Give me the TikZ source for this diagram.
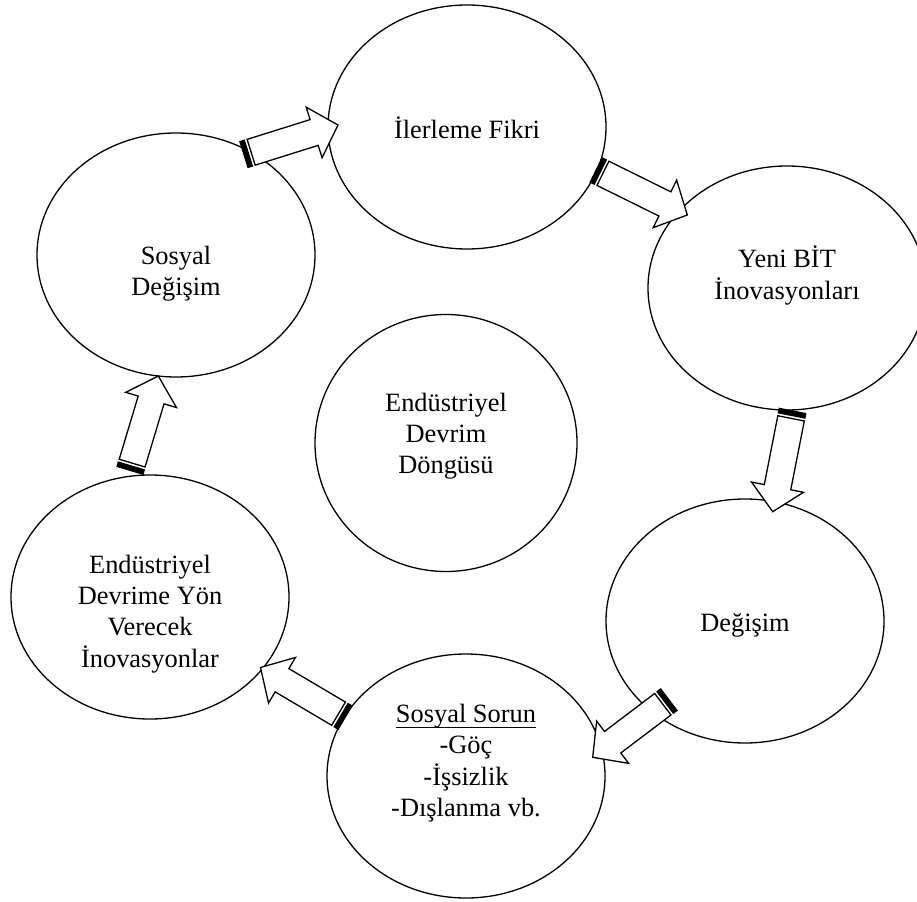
\documentclass[tikz,border=0pt]{standalone}
\usepackage{fontspec}
\setmainfont{Liberation Serif}
\usetikzlibrary{shapes.geometric,calc}
\newcommand{\lbfont}{\fontsize{26.4pt}{31pt}\selectfont}
\newcommand{\myul}[1]{\setbox0\hbox{#1}\rlap{\rule[-5.5pt]{\wd0}{1.3pt}}\box0}
\newcommand{\sarrow}[2]{%
 \path ($(#1)!4.5pt!(#2)$) coordinate (sa1)
       ($(#1)!7.5pt!(#2)$) coordinate (sa2)
       ($(#2)!25pt!(#1)$) coordinate (sab);
 \fill[white] ($(#1)!13.5pt!90:(#2)$) -- ($(sab)!13.5pt!90:(#2)$) -- ($(sab)!26.5pt!90:(#2)$) -- (#2) -- ($(sab)!26.5pt!-90:(#2)$) -- ($(sab)!13.5pt!-90:(#2)$) -- ($(#1)!13.5pt!-90:(#2)$) -- cycle;
 \draw[arw] ($(sa2)!13.5pt!90:(#2)$) -- ($(sab)!13.5pt!90:(#2)$) -- ($(sab)!26.5pt!90:(#2)$) -- (#2) -- ($(sab)!26.5pt!-90:(#2)$) -- ($(sab)!13.5pt!-90:(#2)$) -- ($(sa2)!13.5pt!-90:(#2)$) -- cycle;
 \filldraw[arw, fill=black] ($(#1)!13.5pt!90:(#2)$) -- ($(sa1)!13.5pt!90:(#2)$) -- ($(sa1)!13.5pt!-90:(#2)$) -- ($(#1)!13.5pt!-90:(#2)$) -- cycle;
}
\begin{document}
\begin{tikzpicture}[x=1pt,y=-1pt,
  ell/.style={ellipse, draw, line width=1.3pt, minimum width=278pt, minimum height=244pt, inner sep=0pt, outer sep=0pt},
  lbl/.style={font=\lbfont, align=center, inner sep=0pt},
  arw/.style={line width=1.3pt, line join=miter}]
\fill[white] (0,0) rectangle (917,901);
\useasboundingbox (0,0) rectangle (917,901);
% ellipses
\node[ell] (soc) at (176,255) {};
\node[ell] (ilr) at (467,127) {};
\node[ell] (bit) at (787,288) {};
\node[ell] (deg) at (745,621) {};
\node[ell] (sor) at (466,776) {};
\node[ell] (inv) at (150,597) {};
\node[ell, minimum width=262pt, minimum height=257pt] (ctr) at (446,443) {};
% arrow end points
\coordinate (a1s) at ($(soc)+(68,-100.5)$);
\coordinate (a1e) at ($(ilr)+(-129,-2)$);
\coordinate (a2s) at ($(ilr)+(129.2,43)$);
\coordinate (a2e) at ($(bit)+(-99.7,-73)$);
\coordinate (a3s) at ($(bit)+(5.5,123)$);
\coordinate (a3e) at ($(deg)+(27.7,-109.3)$);
\coordinate (a4s) at ($(deg)+(-76.2,78.7)$);
\coordinate (a4e) at ($(sor)+(126.7,-18.7)$);
\coordinate (a5s) at ($(sor)+(-121,-58.5)$);
\coordinate (a5e) at ($(inv)+(110.5,70.5)$);
\coordinate (a6s) at ($(inv)+(-20,-126.7)$);
\coordinate (a6e) at ($(soc)+(-17.7,121)$);
\sarrow{a1s}{a1e}
\sarrow{a2s}{a2e}
\sarrow{a3s}{a3e}
\sarrow{a4s}{a4e}
\sarrow{a5s}{a5e}
\sarrow{a6s}{a6e}
% texts
\node[lbl] (ilrt) at ($(ilr)+(0,5)$) {\strut İlerleme Fikri};
\node[lbl] (bitt) at ($(bit)+(0,-11)$) {\strut Yeni BİT\\\strut İnovasyonları};
\node[lbl] (degt) at ($(deg)+(0,4)$) {\strut Değişim};
\node[lbl] (sort) at ($(sor)+(0,-12.5)$) {\strut\myul{Sosyal Sorun}\\\strut -Göç\\\strut -İşsizlik\\\strut -Dışlanma vb.};
\node[lbl] (invt) at ($(inv)+(0,17)$) {\strut Endüstriyel\\\strut Devrime Yön\\\strut Verecek\\\strut İnovasyonlar};
\node[lbl] (soct) at ($(soc)+(0,19)$) {\strut Sosyal\\\strut Değişim};
\node[lbl] (ctrt) at ($(ctr)+(0,-6.5)$) {\strut Endüstriyel\\\strut Devrim\\\strut Döngüsü};
\end{tikzpicture}
\end{document}
